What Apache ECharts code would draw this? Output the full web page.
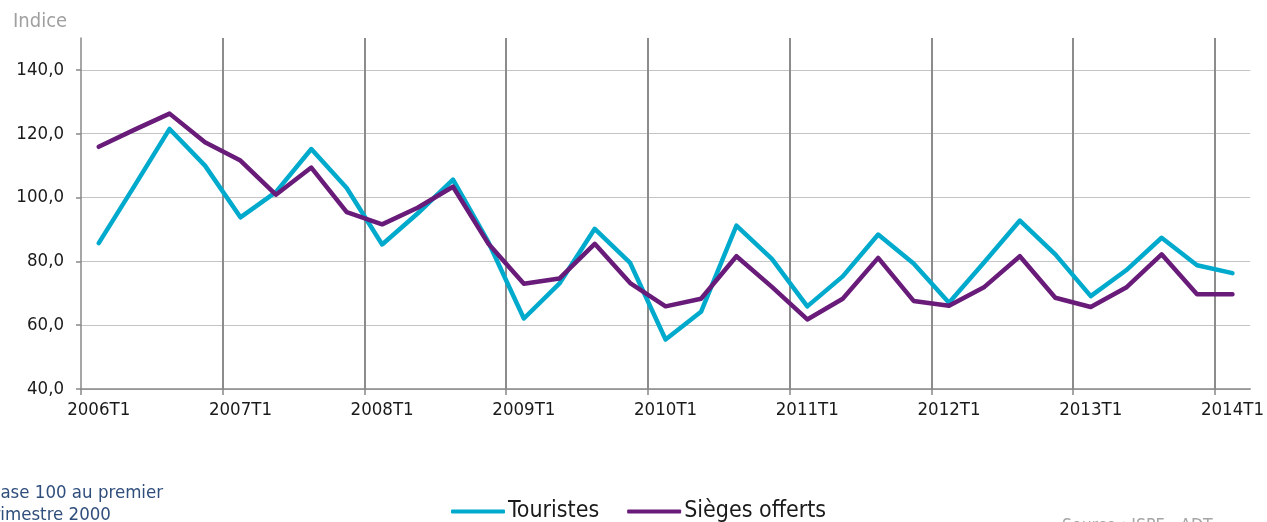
<!DOCTYPE html>
<html>
<head>
<meta charset="utf-8">
<title>Touristes et sièges offerts</title>
<script src="https://cdn.jsdelivr.net/npm/echarts@6/dist/echarts.min.js"></script>
<style>
  html, body { margin: 0; padding: 0; background: #fff; }
  #chart { width: 1267px; height: 522px; }
</style>
</head>
<body>
<div id="chart"></div>
<script>
// quarters 2006T1 .. 2014T1 (33 points)
var quarters = [
  "2006T1", "2006T2", "2006T3", "2006T4",
  "2007T1", "2007T2", "2007T3", "2007T4",
  "2008T1", "2008T2", "2008T3", "2008T4",
  "2009T1", "2009T2", "2009T3", "2009T4",
  "2010T1", "2010T2", "2010T3", "2010T4",
  "2011T1", "2011T2", "2011T3", "2011T4",
  "2012T1", "2012T2", "2012T3", "2012T4",
  "2013T1", "2013T2", "2013T3", "2013T4",
  "2014T1"
];
var yearLabels = ["2006T1", "2007T1", "2008T1", "2009T1", "2010T1", "2011T1", "2012T1", "2013T1", "2014T1"];
var yTicks = [40, 60, 80, 100, 120, 140];

var touristes = [
  85.7, 103.5, 121.5, 110.0,
  93.8, 101.7, 115.2, 103.0,
  85.3, 95.0, 105.6, 86.0,
  62.1, 73.0, 90.2, 79.5,
  55.5, 64.2, 91.2, 80.8,
  65.9, 75.3, 88.4, 79.3,
  67.0, 79.8, 92.8, 82.2,
  69.1, 77.2, 87.4, 78.8,
  76.3
];
var sieges = [
  115.9, 121.2, 126.3, 117.3,
  111.6, 100.9, 109.4, 95.4,
  91.6, 96.8, 103.4, 85.5,
  73.0, 74.6, 85.5, 73.2,
  65.9, 68.3, 81.6, 72.0,
  61.8, 68.3, 81.1, 67.6,
  66.1, 72.0, 81.6, 68.6,
  65.7, 71.8, 82.2, 69.7,
  69.7
];

var FONT = "'DejaVu Sans Condensed', 'DejaVu Sans', sans-serif";
var CYAN = "#00aacd";
var PURPLE = "#681b79";

// each quarter sits in the middle of its band; year ticks are on band edges,
// year labels in the middle of the first quarter's band
function toPoints(values) {
  return values.map(function (v, i) { return [i + 0.5, v]; });
}
var yearTickValues = yearLabels.map(function (d, i) { return i * 4; });
var yearLabelValues = yearLabels.map(function (d, i) { return i * 4 + 0.5; });

var chart = echarts.init(document.getElementById("chart"));
chart.setOption({
  animation: false,
  textStyle: { fontFamily: FONT },
  grid: { left: 81, right: 16, top: 38, bottom: 133 },
  xAxis: {
    type: "value",
    min: 0,
    max: quarters.length,
    interval: 4,
    axisLine: { show: true, onZero: false, lineStyle: { color: "#888", width: 1.5 } },
    axisTick: { show: true, length: 6, customValues: yearTickValues, lineStyle: { color: "#888", width: 1.5 } },
    axisLabel: {
      customValues: yearLabelValues,
      margin: 12,
      color: "#1a1a1a",
      fontSize: 18.5,
      fontFamily: FONT,
      formatter: function (v) { return yearLabels[Math.floor(v / 4)] || ""; }
    },
    splitLine: { show: true, showMinLine: false, lineStyle: { color: "#8c8c8c", width: 2 } }
  },
  yAxis: {
    type: "value",
    min: 40,
    max: 150,
    interval: 20,
    axisLine: { show: true, lineStyle: { color: "#888", width: 1.5 } },
    axisTick: { show: true, length: 5, customValues: yTicks, lineStyle: { color: "#888", width: 1.5 } },
    axisLabel: {
      customValues: yTicks,
      margin: 17,
      color: "#1a1a1a",
      fontSize: 18.5,
      fontFamily: FONT,
      formatter: function (v) { return v.toFixed(1).replace(".", ","); }
    },
    splitLine: { show: true, lineStyle: { color: "#c4c4c4", width: 1.2 } }
  },
  legend: {
    left: 446,
    top: 495,
    itemWidth: 54,
    itemHeight: 4,
    itemGap: 28,
    icon: "roundRect",
    textStyle: { fontSize: 23, color: "#1a1a1a", fontFamily: FONT, padding: [0, 0, 0, -2] },
    data: ["Touristes", "Sièges offerts"]
  },
  series: [
    {
      name: "Touristes",
      type: "line",
      data: toPoints(touristes),
      showSymbol: false,
      symbol: "none",
      itemStyle: { color: CYAN },
      lineStyle: { color: CYAN, width: 4.5, cap: "round", join: "round" },
      z: 3
    },
    {
      name: "Sièges offerts",
      type: "line",
      data: toPoints(sieges),
      showSymbol: false,
      symbol: "none",
      itemStyle: { color: PURPLE },
      lineStyle: { color: PURPLE, width: 4.5, cap: "round", join: "round" },
      z: 4
    }
  ],
  graphic: [
    {
      type: "text",
      left: 13,
      top: 12,
      style: { text: "Indice", fill: "#a0a0a0", font: "20px " + FONT }
    },
    {
      type: "text",
      left: -11,
      top: 484,
      style: { text: "Base 100 au premier", fill: "#2f4e7c", font: "18.5px " + FONT }
    },
    {
      type: "text",
      left: -13,
      top: 506,
      style: { text: "trimestre 2000", fill: "#2f4e7c", font: "18.5px " + FONT }
    },
    {
      type: "text",
      left: 1062,
      top: 517,
      style: { text: "Source : ISPF - ADT", fill: "#a6a6a6", font: "17.5px " + FONT }
    }
  ]
});
</script>
</body>
</html>
